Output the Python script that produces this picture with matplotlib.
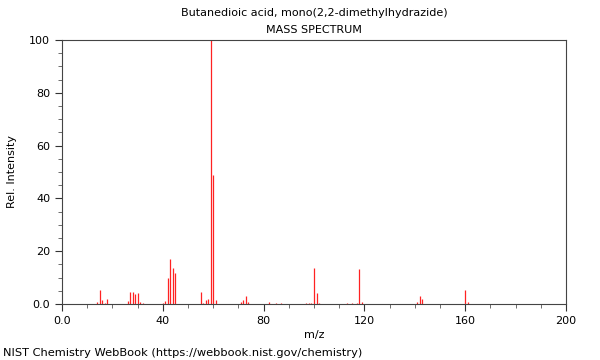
import matplotlib
matplotlib.use("Agg")
import matplotlib.pyplot as plt
from matplotlib.ticker import MultipleLocator, FixedLocator, FixedFormatter

title = "Butanedioic acid, mono(2,2-dimethylhydrazide)"
subtitle = "MASS SPECTRUM"

mz = [14, 15, 16, 17, 18, 26, 27, 28, 29, 30, 31, 32, 40, 41, 42, 43, 44, 45,
      55, 56, 57, 58, 59, 60, 61, 71, 72, 73, 74, 82, 85, 87, 97, 98, 99,
      100, 101, 102, 113, 115, 117, 118, 119, 141, 142, 143, 160, 161]
intensity = [0.8, 5.4, 1.4, 0.5, 1.8, 1.3, 4.7, 4.4, 3.8, 4.0, 0.7, 0.4, 0.5, 1.0, 9.7, 17.1, 13.6, 11.6,
             4.4, 0.5, 1.5, 2.0, 100.0, 48.9, 1.6, 0.8, 1.5, 3.0, 0.8, 0.9, 0.3, 0.3, 0.3, 0.3, 0.4,
             13.5, 4.3, 0.3, 0.2, 0.3, 0.3, 13.1, 0.9, 0.8, 3.0, 1.9, 5.3, 0.7]

x_ticks = [0, 40, 80, 120, 160, 200]
x_labels = ["0.0", "40", "80", "120", "160", "200"]
y_ticks = [0, 20, 40, 60, 80, 100]
y_labels = ["0.0", "20", "40", "60", "80", "100"]

fig = plt.figure(figsize=(6, 3.6), dpi=100)
ax = fig.add_axes([62/600, 1-304/360, 504/600, 264/360])

ax.vlines(mz, 0, intensity, colors="#ff2222", linewidth=0.9)

ax.set_xlim(0, 200)
ax.set_ylim(0, 100)
ax.xaxis.set_major_locator(FixedLocator(x_ticks))
ax.xaxis.set_major_formatter(FixedFormatter(x_labels))
ax.xaxis.set_minor_locator(MultipleLocator(10))
ax.yaxis.set_major_locator(FixedLocator(y_ticks))
ax.yaxis.set_major_formatter(FixedFormatter(y_labels))
ax.yaxis.set_minor_locator(MultipleLocator(5))

ax.tick_params(axis="both", which="major", direction="out", length=5, width=0.8,
               labelsize=8, colors="#333333", labelcolor="black")
ax.tick_params(axis="both", which="minor", direction="out", length=3, width=0.6,
               colors="#555555")
for s in ax.spines.values():
    s.set_color("#444444")
    s.set_linewidth(0.8)

ax.set_xlabel("m/z", fontsize=8, labelpad=3)
ax.set_ylabel("Rel. Intensity", fontsize=8, labelpad=9)

fig.text(314/600, 1-13/360, title, ha="center", va="center", fontsize=8)
fig.text(314/600, 1-30/360, subtitle, ha="center", va="center", fontsize=8)
fig.text(3/600, 1-353/360, "NIST Chemistry WebBook (https://webbook.nist.gov/chemistry)",
         ha="left", va="center", fontsize=8.2)

fig.savefig("out.png", dpi=100)
